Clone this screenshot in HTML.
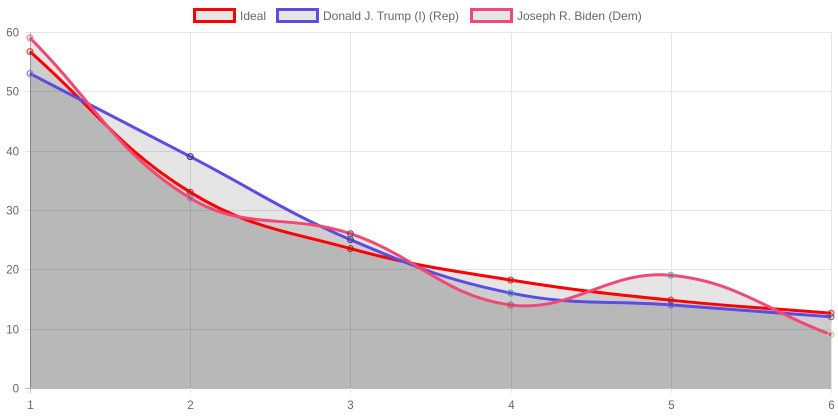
<!DOCTYPE html>
<html><head><meta charset="utf-8">
<style>
html,body{margin:0;padding:0;background:#fff;}
svg{display:block;font-family:"Liberation Sans",Arial,sans-serif;}
</style></head>
<body>
<svg id="chart" width="838" height="419" viewBox="0 0 838 419" xmlns="http://www.w3.org/2000/svg">
<g id="grid"></g>
<g id="fills"></g>
<g id="lines"></g>
<g id="points"></g>
<g id="axes"></g>
<g id="legend">
  <g>
    <rect x="194.5" y="9.5" width="40" height="12" fill="#e6e6e6" stroke="#ff0000" stroke-width="3"/>
    <text x="240" y="20" font-size="12" fill="#666">Ideal</text>
  </g>
  <g>
    <rect x="277.5" y="9.5" width="40" height="12" fill="#e6e6e6" stroke="#5b4de0" stroke-width="3"/>
    <text x="323" y="20" font-size="12" fill="#666">Donald J. Trump (I) (Rep)</text>
  </g>
  <g>
    <rect x="471.5" y="9.5" width="40" height="12" fill="#e6e6e6" stroke="#ef4a76" stroke-width="3"/>
    <text x="517" y="20" font-size="12" fill="#666">Joseph R. Biden (Dem)</text>
  </g>
</g>
</svg>
<script>
const categories = [1, 2, 3, 4, 5, 6];
const idealValues = [56.7, 33, 23.5, 18.2, 14.8, 12.6];
const trumpValues = [53, 39, 25, 16, 14, 12];
const bidenValues = [59, 32, 26, 14, 19, 9];
const yTicks = [0, 10, 20, 30, 40, 50, 60];

const X0 = 30, X1 = 831, Y0 = 388, Y1 = 32, YMAX = 60;
const xs = i => X0 + (X1 - X0) * i / (categories.length - 1);
const ys = v => Y0 - (Y0 - Y1) * v / YMAX;
const NS = "http://www.w3.org/2000/svg";
function mk(tag, attrs, parent){const e=document.createElementNS(NS,tag);for(const k in attrs)e.setAttribute(k,attrs[k]);parent.appendChild(e);return e;}

const grid = document.getElementById('grid'), axes = document.getElementById('axes');
yTicks.forEach(t=>{
  const y = Math.round(ys(t))+0.5;
  const l = mk('line',{x1:X0-5,x2:X1,y1:y,y2:y,stroke:t===0?'#bbb':'#e5e5e5','stroke-width':1},grid);
  
  
  const tx = mk('text',{x:X0-11,y:y+4,'font-size':11.5,fill:'#666','text-anchor':'end'},axes);
  tx.textContent = t;
  
  
});
categories.forEach((c,i)=>{
  const x = Math.round(xs(i))+0.5;
  const l = mk('line',{x1:x,x2:x,y1:Y1,y2:Y0+5,stroke:i===0?'#bbb':'#e5e5e5','stroke-width':1},grid);
  
  
  const tx = mk('text',{x:x,y:Y0+21,'font-size':11.5,fill:'#666','text-anchor':'middle'},axes);
  tx.textContent = c;
  
  
});

function curvePath(vals){
  const pts = vals.map((v,i)=>({x:xs(i),y:ys(v)}));
  const t = 0.4, cps = [];
  for(let i=0;i<pts.length;i++){
    const p=pts[Math.max(0,i-1)], c=pts[i], n=pts[Math.min(pts.length-1,i+1)];
    const d01=Math.hypot(c.x-p.x,c.y-p.y), d12=Math.hypot(n.x-c.x,n.y-c.y);
    let s01=d01/(d01+d12||1), s12=d12/(d01+d12||1);
    const fa=t*s01, fb=t*s12;
    cps.push({px:c.x-fa*(n.x-p.x),py:c.y-fa*(n.y-p.y),nx:c.x+fb*(n.x-p.x),ny:c.y+fb*(n.y-p.y)});
  }
  let d=`M${pts[0].x},${pts[0].y}`;
  for(let i=1;i<pts.length;i++){
    d+=` C${cps[i-1].nx},${cps[i-1].ny} ${cps[i].px},${cps[i].py} ${pts[i].x},${pts[i].y}`;
  }
  return {d,pts};
}
const series = [
  {name:'ideal', vals:idealValues, color:'#ff0000', pc:['#e03030','#d02020','#c02020','#d03030','#c02a2a','#e03030']},
  {name:'trump', vals:trumpValues, color:'#5b4de0', pc:['#7d70e0','#333366','#444480','#40a0c0','#6a6ae0','#606090']},
  {name:'biden', vals:bidenValues, color:'#ef4a76', pc:['#f07090','#a080c0','#555577','#b06070','#80a0d0','#d0d080']}
];
const fills=document.getElementById('fills'), lines=document.getElementById('lines'), points=document.getElementById('points');
series.forEach(s=>{
  const {d,pts}=curvePath(s.vals);
  const f=mk('path',{d:d+` L${xs(s.vals.length-1)},${Y0} L${xs(0)},${Y0} Z`,fill:'rgba(0,0,0,0.1)'},fills);
  
  
  const l=mk('path',{d,fill:'none',stroke:s.color,'stroke-width':3},lines);
  
  
  pts.forEach((p,i)=>{
    const c=mk('circle',{cx:p.x,cy:p.y,r:3,fill:'rgba(0,0,0,0.1)',stroke:s.pc[i],'stroke-width':1},points);
    
    
  });
});
</script>
</body></html>
